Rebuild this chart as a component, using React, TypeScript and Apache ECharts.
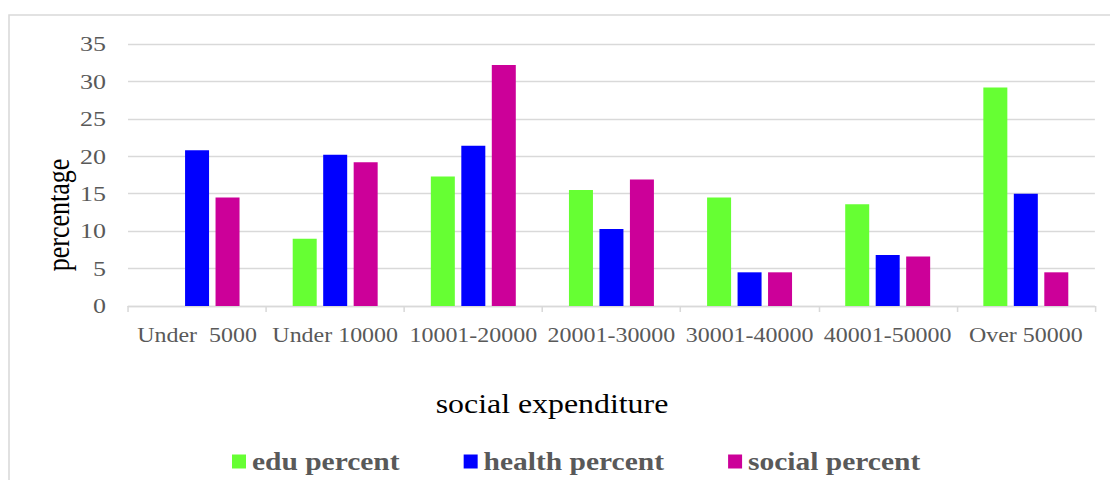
import React, { useEffect, useRef } from "react";
import * as echarts from "echarts";

// Spending brackets on the category axis
const categories = [
  "Under  5000",
  "Under 10000",
  "10001-20000",
  "20001-30000",
  "30001-40000",
  "40001-50000",
  "Over 50000",
];

// Shares (%) per bracket
const eduPercent = [0, 9.0, 17.3, 15.5, 14.5, 13.6, 29.2];
const healthPercent = [20.8, 20.2, 21.4, 10.3, 4.5, 6.8, 15.0];
const socialPercent = [14.5, 19.2, 32.2, 16.9, 4.5, 6.6, 4.5];

const seriesNames = ["edu percent", "health percent", "social percent"];
const seriesColors = ["#66ff33", "#0000ff", "#cc0099"];

const yTicks = { min: 0, max: 35, interval: 5 };

// The drawing is laid out on a narrower canvas and widened horizontally.
const STRETCH = 1.18;
const OUT_W = 1110;
const OUT_H = 480;
const W = OUT_W / STRETCH;

const FONT = '"Liberation Serif", "Times New Roman", serif';

export default function App() {
  const ref = useRef<HTMLDivElement>(null);

  useEffect(() => {
    if (!ref.current) return;
    const chart = echarts.init(ref.current, undefined, { renderer: "svg" });
    const values = [eduPercent, healthPercent, socialPercent];

    chart.setOption({
      animation: false,
      backgroundColor: "#ffffff",
      textStyle: { fontFamily: FONT },
      grid: {
        left: 128 / STRETCH,
        right: (OUT_W - 1094.5) / STRETCH,
        top: 44,
        bottom: OUT_H - 306,
        containLabel: false,
      },
      legend: {
        data: seriesNames,
        left: 232 / STRETCH - 5,
        top: 444,
        itemWidth: 14 / STRETCH,
        itemHeight: 14,
        itemGap: 64 / STRETCH,
        icon: "rect",
        textStyle: {
          fontFamily: FONT,
          fontSize: 25,
          fontWeight: "bold",
          color: "#595959",
        },
      },
      xAxis: {
        type: "category",
        data: categories,
        axisLine: { lineStyle: { color: "#d9d9d9", width: 1.3 } },
        axisTick: { show: true, length: 6, lineStyle: { color: "#d9d9d9", width: 1.3 } },
        axisLabel: {
          color: "#595959",
          fontFamily: FONT,
          fontSize: 20.3,
          margin: 19,
          interval: 0,
        },
        splitLine: { show: false },
      },
      yAxis: {
        type: "value",
        min: yTicks.min,
        max: yTicks.max,
        interval: yTicks.interval,
        axisLine: { show: false },
        axisTick: { show: false },
        axisLabel: {
          color: "#595959",
          fontFamily: FONT,
          fontSize: 22,
          margin: 22 / STRETCH,
        },
        splitLine: { lineStyle: { color: "#d9d9d9", width: 1.3 } },
      },
      series: values.map((v, i) => ({
        name: seriesNames[i],
        type: "bar",
        data: v,
        barWidth: 24 / STRETCH,
        barGap: "27%",
        itemStyle: { color: seriesColors[i] },
      })),
      graphic: [
        {
          type: "rect",
          silent: true,
          shape: { x: 9 / STRETCH, y: 15, width: W + 20, height: OUT_H },
          style: { fill: "none", stroke: "#d9d9d9", lineWidth: 1.3 },
          z: -1,
        },
        {
          type: "text",
          x: 59 / STRETCH,
          y: 215,
          rotation: Math.PI / 2,
          style: {
            text: "percentage",
            fontFamily: FONT,
            fontSize: 26,
            fill: "#000000",
            textAlign: "center",
            textVerticalAlign: "middle",
          },
        },
        {
          type: "text",
          x: 552 / STRETCH,
          y: 404,
          style: {
            text: "social expenditure",
            fontFamily: FONT,
            fontSize: 27,
            fill: "#000000",
            textAlign: "center",
            textVerticalAlign: "middle",
          },
        },
      ],
    });

    return () => chart.dispose();
  }, []);

  return (
    <div
      style={{
        position: "fixed",
        left: 0,
        top: 0,
        width: OUT_W,
        height: OUT_H,
        overflow: "hidden",
        background: "#ffffff",
      }}
    >
      <div
        ref={ref}
        style={{
          width: W,
          height: OUT_H,
          transform: `scaleX(${STRETCH})`,
          transformOrigin: "0 0",
        }}
      />
    </div>
  );
}
